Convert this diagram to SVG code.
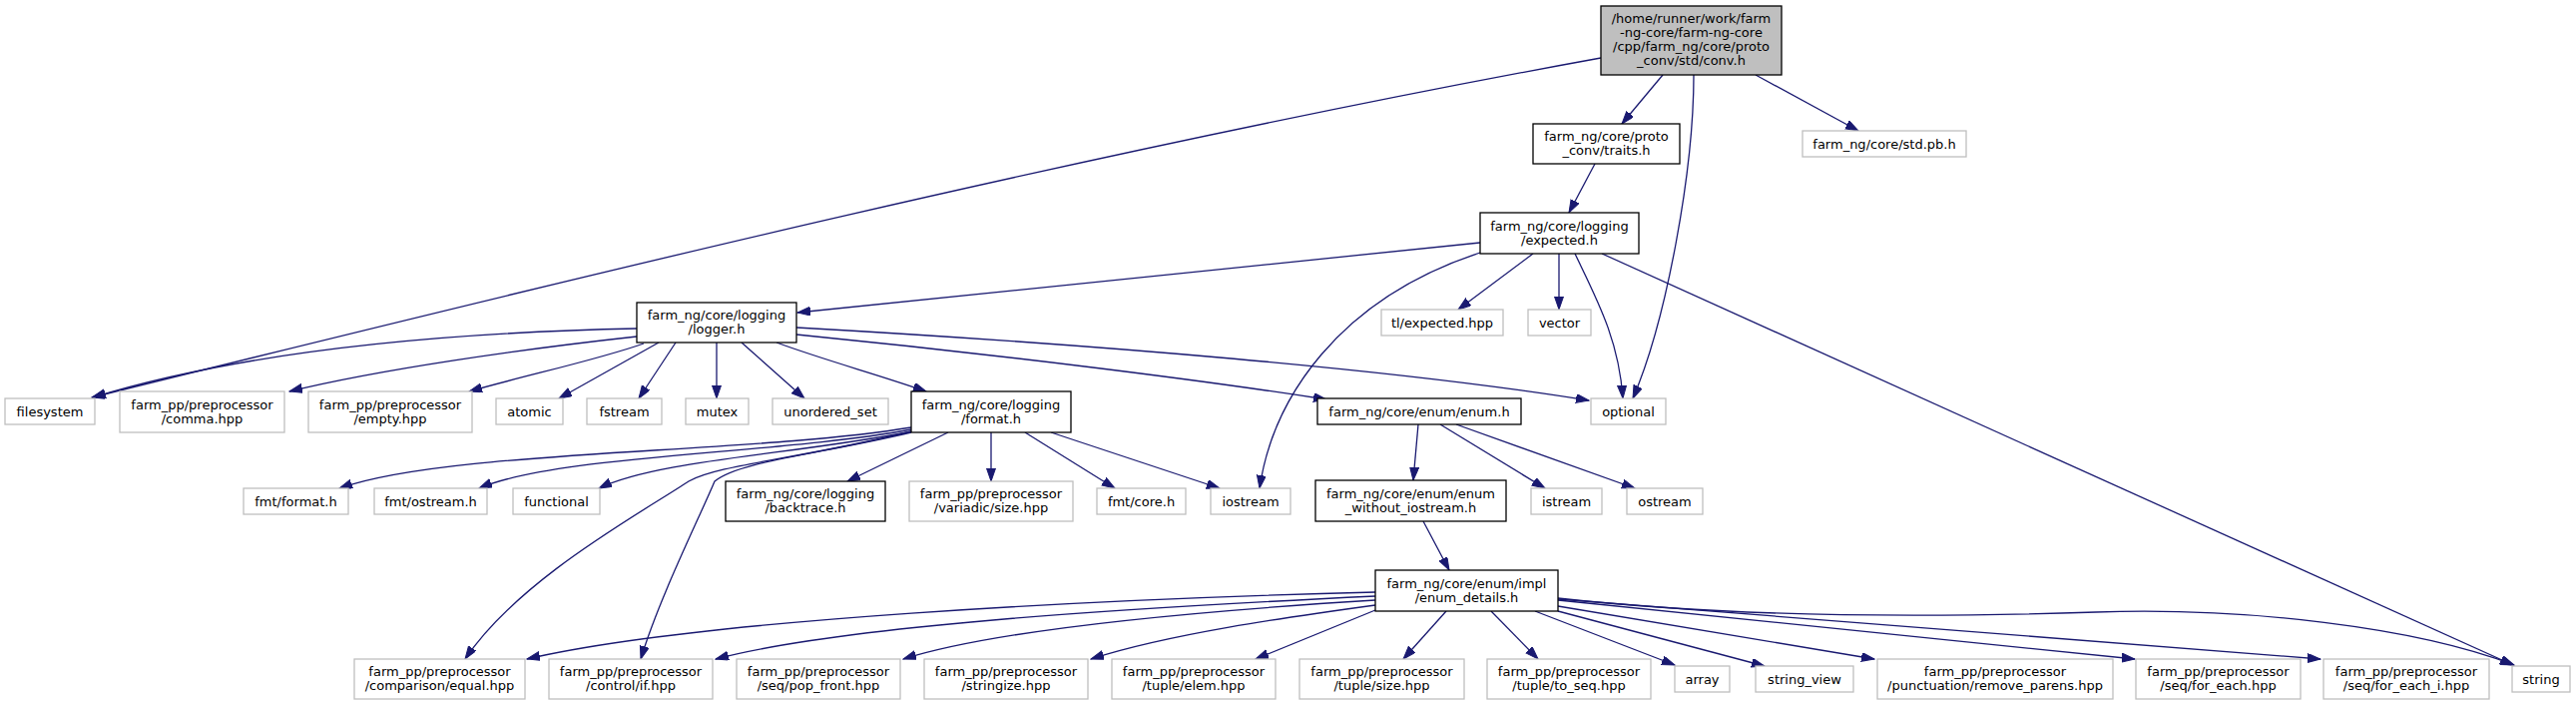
<svg xmlns="http://www.w3.org/2000/svg" width="2581" height="707" viewBox="0 0 2581 707">
<style>
text{font-family:"DejaVu Sans","Liberation Sans",sans-serif;font-size:13px;text-anchor:middle;fill:#000}
.doc rect{fill:#fff;stroke:#000;stroke-width:1.3}
.und rect{fill:#fff;stroke:#bfbfbf;stroke-width:1.3}
.root rect{fill:#bfbfbf;stroke:#000;stroke-width:1.3}
#edges path{fill:none;stroke:#191970;stroke-width:1.3;marker-end:url(#arr)}
</style>
<defs>
<marker id="arr" markerUnits="userSpaceOnUse" markerWidth="14" markerHeight="10" refX="13" refY="4.5" orient="auto" viewBox="0 0 14 10">
<path d="M0,0 L13,4.5 L0,9 Z" fill="#191970" stroke="#191970" stroke-width="1"/>
</marker>
</defs>
<rect width="2581" height="707" fill="#fff"/>
<g id="edges">
<path d="M1666,75 L1625,124"/>
<path d="M1604,58 C1104,149 592,274 92,398"/>
<path d="M1697,75 C1697,170 1670,320 1636,399"/>
<path d="M1759,75 L1862,131"/>
<path d="M1598,164 L1572,213"/>
<path d="M1483,243 L799,313"/>
<path d="M1536,254 L1461,310"/>
<path d="M1562,254 L1562,310"/>
<path d="M1578,254 C1600,300 1622,340 1626,399"/>
<path d="M1483,253 C1340,300 1275,400 1262,489"/>
<path d="M1605,254 L2518,666"/>
<path d="M638,329 C450,333 250,350 93,398"/>
<path d="M638,337 C520,350 380,370 290,392"/>
<path d="M645,344 C600,360 530,375 470,392"/>
<path d="M660,343 L560,399"/>
<path d="M677,343 L640,399"/>
<path d="M718,343 L718,399"/>
<path d="M743,343 L806,399"/>
<path d="M778,343 C830,362 880,375 928,392"/>
<path d="M798,335 C1000,355 1200,380 1329,400"/>
<path d="M798,328 C1100,345 1400,370 1592,401"/>
<path d="M913,428 C750,455 450,450 340,489"/>
<path d="M913,430 C780,455 560,455 480,489"/>
<path d="M913,432 C800,455 660,460 600,489"/>
<path d="M913,432 C800,460 720,465 690,482 C640,515 520,580 466,660"/>
<path d="M913,433 C820,455 740,462 716,482 C700,520 660,600 642,660"/>
<path d="M950,433 L849,482"/>
<path d="M993,433 L993,482"/>
<path d="M1027,433 L1117,489"/>
<path d="M1053,433 L1222,489"/>
<path d="M1421,425 L1416,481"/>
<path d="M1443,425 L1548,489"/>
<path d="M1459,425 L1638,489"/>
<path d="M1426,522 L1452,571"/>
<path d="M1378,593 C1100,600 700,620 528,660"/>
<path d="M1378,597 C1150,608 850,625 717,660"/>
<path d="M1378,601 C1200,612 1000,630 905,660"/>
<path d="M1378,606 C1290,618 1170,635 1093,660"/>
<path d="M1378,611 L1258,660"/>
<path d="M1449,612 L1406,660"/>
<path d="M1494,612 L1541,660"/>
<path d="M1538,612 L1678,666"/>
<path d="M1561,612 L1768,667"/>
<path d="M1561,607 L1878,660"/>
<path d="M1561,601 L2139,660"/>
<path d="M1561,600 L2325,660"/>
<path d="M1561,599 C1750,620 1950,618 2100,613 C2250,608 2420,628 2519,666"/>
</g>
<g id="n_root" class="root"><rect x="1604" y="6" width="181" height="69"/><text x="1694.5" y="23">/home/runner/work/farm</text><text x="1694.5" y="37">-ng-core/farm-ng-core</text><text x="1694.5" y="51">/cpp/farm_ng/core/proto</text><text x="1694.5" y="65">_conv/std/conv.h</text></g>
<g id="n_traits" class="doc"><rect x="1536" y="124" width="147" height="40"/><text x="1609.5" y="141">farm_ng/core/proto</text><text x="1609.5" y="155">_conv/traits.h</text></g>
<g id="n_stdpb" class="und"><rect x="1806" y="131" width="164" height="26"/><text x="1888" y="148.5">farm_ng/core/std.pb.h</text></g>
<g id="n_expected" class="doc"><rect x="1483" y="213" width="159" height="41"/><text x="1562.5" y="230.5">farm_ng/core/logging</text><text x="1562.5" y="244.5">/expected.h</text></g>
<g id="n_logger" class="doc"><rect x="638" y="303" width="160" height="40"/><text x="718" y="320">farm_ng/core/logging</text><text x="718" y="334">/logger.h</text></g>
<g id="n_tlexpected" class="und"><rect x="1384" y="310" width="122" height="26"/><text x="1445" y="327.5">tl/expected.hpp</text></g>
<g id="n_vector" class="und"><rect x="1531" y="310" width="63" height="26"/><text x="1562.5" y="327.5">vector</text></g>
<g id="n_filesystem" class="und"><rect x="5" y="399" width="90" height="26"/><text x="50" y="416.5">filesystem</text></g>
<g id="n_comma" class="und"><rect x="120" y="392" width="165" height="41"/><text x="202.5" y="409.5">farm_pp/preprocessor</text><text x="202.5" y="423.5">/comma.hpp</text></g>
<g id="n_empty" class="und"><rect x="309" y="392" width="164" height="41"/><text x="391" y="409.5">farm_pp/preprocessor</text><text x="391" y="423.5">/empty.hpp</text></g>
<g id="n_atomic" class="und"><rect x="497" y="399" width="67" height="26"/><text x="530.5" y="416.5">atomic</text></g>
<g id="n_fstream" class="und"><rect x="588" y="399" width="75" height="26"/><text x="625.5" y="416.5">fstream</text></g>
<g id="n_mutex" class="und"><rect x="687" y="399" width="63" height="26"/><text x="718.5" y="416.5">mutex</text></g>
<g id="n_unordered_set" class="und"><rect x="774" y="399" width="116" height="26"/><text x="832" y="416.5">unordered_set</text></g>
<g id="n_format" class="doc"><rect x="913" y="392" width="160" height="41"/><text x="993" y="409.5">farm_ng/core/logging</text><text x="993" y="423.5">/format.h</text></g>
<g id="n_enum" class="doc"><rect x="1320" y="399" width="204" height="26"/><text x="1422" y="416.5">farm_ng/core/enum/enum.h</text></g>
<g id="n_optional" class="und"><rect x="1594" y="399" width="75" height="26"/><text x="1631.5" y="416.5">optional</text></g>
<g id="n_fmtformat" class="und"><rect x="244" y="489" width="105" height="26"/><text x="296.5" y="506.5">fmt/format.h</text></g>
<g id="n_fmtostream" class="und"><rect x="375" y="489" width="113" height="26"/><text x="431.5" y="506.5">fmt/ostream.h</text></g>
<g id="n_functional" class="und"><rect x="514" y="489" width="87" height="26"/><text x="557.5" y="506.5">functional</text></g>
<g id="n_backtrace" class="doc"><rect x="727" y="482" width="160" height="40"/><text x="807" y="499">farm_ng/core/logging</text><text x="807" y="513">/backtrace.h</text></g>
<g id="n_variadic" class="und"><rect x="911" y="482" width="164" height="40"/><text x="993" y="499">farm_pp/preprocessor</text><text x="993" y="513">/variadic/size.hpp</text></g>
<g id="n_fmtcore" class="und"><rect x="1099" y="489" width="89" height="26"/><text x="1143.5" y="506.5">fmt/core.h</text></g>
<g id="n_iostream" class="und"><rect x="1213" y="489" width="80" height="26"/><text x="1253" y="506.5">iostream</text></g>
<g id="n_enumwo" class="doc"><rect x="1318" y="481" width="191" height="41"/><text x="1413.5" y="498.5">farm_ng/core/enum/enum</text><text x="1413.5" y="512.5">_without_iostream.h</text></g>
<g id="n_istream" class="und"><rect x="1534" y="489" width="71" height="26"/><text x="1569.5" y="506.5">istream</text></g>
<g id="n_ostream" class="und"><rect x="1630" y="489" width="76" height="26"/><text x="1668" y="506.5">ostream</text></g>
<g id="n_enumdetails" class="doc"><rect x="1378" y="571" width="183" height="41"/><text x="1469.5" y="588.5">farm_ng/core/enum/impl</text><text x="1469.5" y="602.5">/enum_details.h</text></g>
<g id="n_equal" class="und"><rect x="355" y="660" width="171" height="40"/><text x="440.5" y="677">farm_pp/preprocessor</text><text x="440.5" y="691">/comparison/equal.hpp</text></g>
<g id="n_if" class="und"><rect x="550" y="660" width="164" height="40"/><text x="632" y="677">farm_pp/preprocessor</text><text x="632" y="691">/control/if.hpp</text></g>
<g id="n_popfront" class="und"><rect x="738" y="660" width="164" height="40"/><text x="820" y="677">farm_pp/preprocessor</text><text x="820" y="691">/seq/pop_front.hpp</text></g>
<g id="n_stringize" class="und"><rect x="926" y="660" width="164" height="40"/><text x="1008" y="677">farm_pp/preprocessor</text><text x="1008" y="691">/stringize.hpp</text></g>
<g id="n_tupleelem" class="und"><rect x="1114" y="660" width="164" height="40"/><text x="1196" y="677">farm_pp/preprocessor</text><text x="1196" y="691">/tuple/elem.hpp</text></g>
<g id="n_tuplesize" class="und"><rect x="1302" y="660" width="165" height="40"/><text x="1384.5" y="677">farm_pp/preprocessor</text><text x="1384.5" y="691">/tuple/size.hpp</text></g>
<g id="n_toseq" class="und"><rect x="1490" y="660" width="164" height="40"/><text x="1572" y="677">farm_pp/preprocessor</text><text x="1572" y="691">/tuple/to_seq.hpp</text></g>
<g id="n_array" class="und"><rect x="1678" y="667" width="55" height="26"/><text x="1705.5" y="684.5">array</text></g>
<g id="n_stringview" class="und"><rect x="1759" y="667" width="98" height="26"/><text x="1808" y="684.5">string_view</text></g>
<g id="n_removeparens" class="und"><rect x="1881" y="660" width="236" height="40"/><text x="1999" y="677">farm_pp/preprocessor</text><text x="1999" y="691">/punctuation/remove_parens.hpp</text></g>
<g id="n_foreach" class="und"><rect x="2140" y="660" width="165" height="40"/><text x="2222.5" y="677">farm_pp/preprocessor</text><text x="2222.5" y="691">/seq/for_each.hpp</text></g>
<g id="n_foreachi" class="und"><rect x="2328" y="660" width="166" height="40"/><text x="2411" y="677">farm_pp/preprocessor</text><text x="2411" y="691">/seq/for_each_i.hpp</text></g>
<g id="n_string" class="und"><rect x="2517" y="667" width="58" height="26"/><text x="2546" y="684.5">string</text></g>
</svg>
